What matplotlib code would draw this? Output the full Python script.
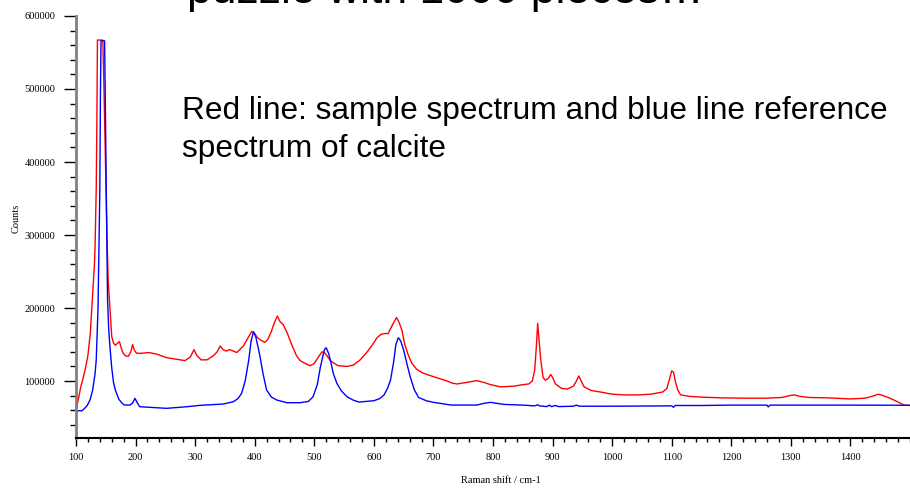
import matplotlib.pyplot as plt
from matplotlib.ticker import MultipleLocator

# Raman shift (cm-1) and counts
red_x = [100, 104, 108, 112, 116, 120, 124, 128, 131, 132, 134, 135, 136, 145, 147, 150, 152,
         154, 157, 160, 163, 166, 170, 173, 176, 179, 184, 188, 192, 195, 198, 202, 210, 222,
         235, 252, 268, 283, 292, 298, 303, 310, 320, 331, 337, 342, 347, 352, 358, 364, 370,
         376, 381, 388, 395, 400, 404, 410, 417, 422, 428, 433, 438, 442, 448, 455, 462, 470,
         476, 485, 493, 500, 507, 513, 517, 521, 527, 532, 540, 555, 566, 577, 588, 598, 605,
         612, 618, 624, 630, 638, 642, 647, 652, 658, 664, 672, 682, 700, 715, 723, 732, 740,
         755, 773, 785, 796, 813, 835, 850, 860, 866, 870, 873, 875, 877, 880, 884, 888, 893,
         897, 900, 905, 915, 925, 935, 940, 944, 948, 953, 965, 980, 1000, 1020, 1045, 1065,
         1085, 1092, 1097, 1100, 1103, 1106, 1110, 1115, 1130, 1150, 1180, 1220, 1260, 1285,
         1298, 1306, 1315, 1330, 1360, 1400, 1425, 1438, 1447, 1455, 1465, 1478, 1490, 1500]
red_y = [60000, 75000, 92000, 104000, 118000, 135000, 165000, 220000, 260000, 283000, 364000,
         448000, 567000, 567000, 500000, 380000, 300000, 238000, 200000, 161000, 152000,
         149000, 152000, 154000, 145000, 138000, 134000, 134000, 140000, 150000, 142000,
         138000, 138000, 139000, 137000, 132000, 130000, 128000, 133000, 143000, 135000,
         129000, 129000, 135000, 140000, 148000, 143000, 141000, 143000, 141000, 139000,
         144000, 148000, 158000, 168000, 165000, 160000, 156000, 153000, 157000, 168000,
         180000, 189000, 182000, 177000, 165000, 150000, 135000, 128000, 124000, 121000,
         124000, 133000, 140000, 139000, 135000, 128000, 125000, 121000, 120000, 122000,
         129000, 139000, 150000, 159000, 164000, 165000, 165000, 175000, 187000, 181000,
         170000, 150000, 135000, 124000, 116000, 111000, 106000, 102000, 100000, 97000,
         96000, 98000, 100500, 98000, 95000, 92000, 93000, 95000, 96000, 100000, 115000,
         150000, 179000, 160000, 130000, 105000, 101000, 104000, 109000, 105000, 96000,
         90000, 89000, 93000, 100000, 107000, 100000, 92000, 87000, 85000, 82000, 81000,
         81000, 82000, 85000, 90000, 105000, 114000, 112000, 100000, 88000, 81000, 79000,
         78000, 77000, 76500, 76500, 77500, 80000, 81000, 79000, 77500, 77000, 75500, 76500,
         79500, 82000, 80000, 77000, 72000, 67000, 66500]

blue_x = [100, 110, 115, 119, 124, 128, 132, 134, 137, 140, 141, 142, 148, 149, 151, 153, 155,
          157, 160, 163, 166, 172, 178, 182, 191, 195, 199, 203, 207, 224, 252, 286, 308, 347,
          364, 372, 378, 384, 390, 394, 398, 402, 406, 409, 414, 420, 428, 437, 454, 476, 490,
          498, 505, 510, 513, 517, 520, 524, 527, 532, 538, 546, 555, 565, 575, 600, 610, 617,
          623, 628, 633, 637, 641, 645, 650, 656, 661, 668, 675, 688, 700, 715, 729, 773, 785,
          796, 810, 818, 850, 870, 875, 878, 890, 895, 898, 905, 910, 935, 940, 945, 1000,
          1100, 1103, 1106, 1150, 1200, 1260, 1262, 1265, 1300, 1400, 1500]
blue_y = [59300, 59300, 63000, 66700, 75000, 87700, 110000, 128800, 200000, 360000, 488000,
          566000, 566000, 500000, 350000, 211000, 170000, 147000, 118000, 98000, 87700, 75000,
          69000, 67100, 67100, 70000, 76300, 70000, 64800, 64000, 62600, 64800, 66700, 68500,
          71600, 76000, 83200, 100000, 128800, 155000, 167500, 160000, 145000, 133000, 110000,
          87700, 78000, 74000, 70300, 70300, 72000, 78500, 95000, 118000, 128800, 143000,
          145600, 138000, 128800, 110000, 96800, 86000, 78500, 74000, 71200, 73000, 76000,
          80800, 90000, 101400, 125000, 150000, 159300, 155000, 142500, 122000, 105900, 88000,
          77600, 73000, 70800, 69000, 67100, 67100, 69500, 70800, 69000, 68000, 67000, 66000,
          67500, 66000, 65000, 67000, 65000, 66500, 65000, 65500, 67000, 65500, 65500, 66000,
          64000, 66500, 66500, 67000, 67000, 64500, 67000, 67000, 67000, 66800]

x_ticks = list(range(100, 1500, 100))
y_ticks = [100000, 200000, 300000, 400000, 500000, 600000]

fig = plt.figure(figsize=(9.1, 4.92), dpi=100)
ax = fig.add_axes([0.0835, 0.1098, 0.9165, 0.8577])

ax.plot(red_x, red_y, color="#ff0000", lw=1.0)
ax.plot(blue_x, blue_y, color="#0000ff", lw=1.0)

ax.set_xlim(100, 1500)
ax.set_ylim(22000, 600000)
ax.set_xticks(x_ticks)
ax.set_yticks(y_ticks)
ax.xaxis.set_minor_locator(MultipleLocator(20))
ax.yaxis.set_minor_locator(MultipleLocator(20000))

serif = "Liberation Serif"
ax.tick_params(axis="y", which="major", length=9, width=1, pad=6, labelsize=7.5)
ax.tick_params(axis="y", which="minor", length=4, width=1)
ax.tick_params(axis="x", which="major", length=6, width=1, pad=5, labelsize=7.5)
ax.tick_params(axis="x", which="minor", length=3, width=1)
for lab in ax.get_xticklabels() + ax.get_yticklabels():
    lab.set_family(serif)

for s in ["top", "right"]:
    ax.spines[s].set_visible(False)
ax.spines["left"].set_color("#808080")
ax.spines["left"].set_linewidth(2)
ax.spines["bottom"].set_linewidth(1.5)

ax.set_ylabel("Counts", family=serif, fontsize=7.5)
ax.yaxis.set_label_coords(-0.066, 0.52)
ax.set_xlabel("Raman shift / cm-1", family=serif, fontsize=7.5)
ax.xaxis.set_label_coords(0.51, -0.09)

# title of the slide, cut off at the top edge as in the original
fig.text(0.489, 1 - 3 / 492, "puzzle with 1000 pieces\u2026", fontsize=32,
         family="Liberation Sans", ha="center", va="baseline")
fig.text(0.2, 1 - 119 / 492, "Red line: sample spectrum and blue line reference",
         fontsize=22.8, family="Liberation Sans", ha="left", va="baseline")
fig.text(0.2, 1 - 157 / 492, "spectrum of calcite",
         fontsize=22.8, family="Liberation Sans", ha="left", va="baseline")

fig.savefig("out.png", dpi=100)
